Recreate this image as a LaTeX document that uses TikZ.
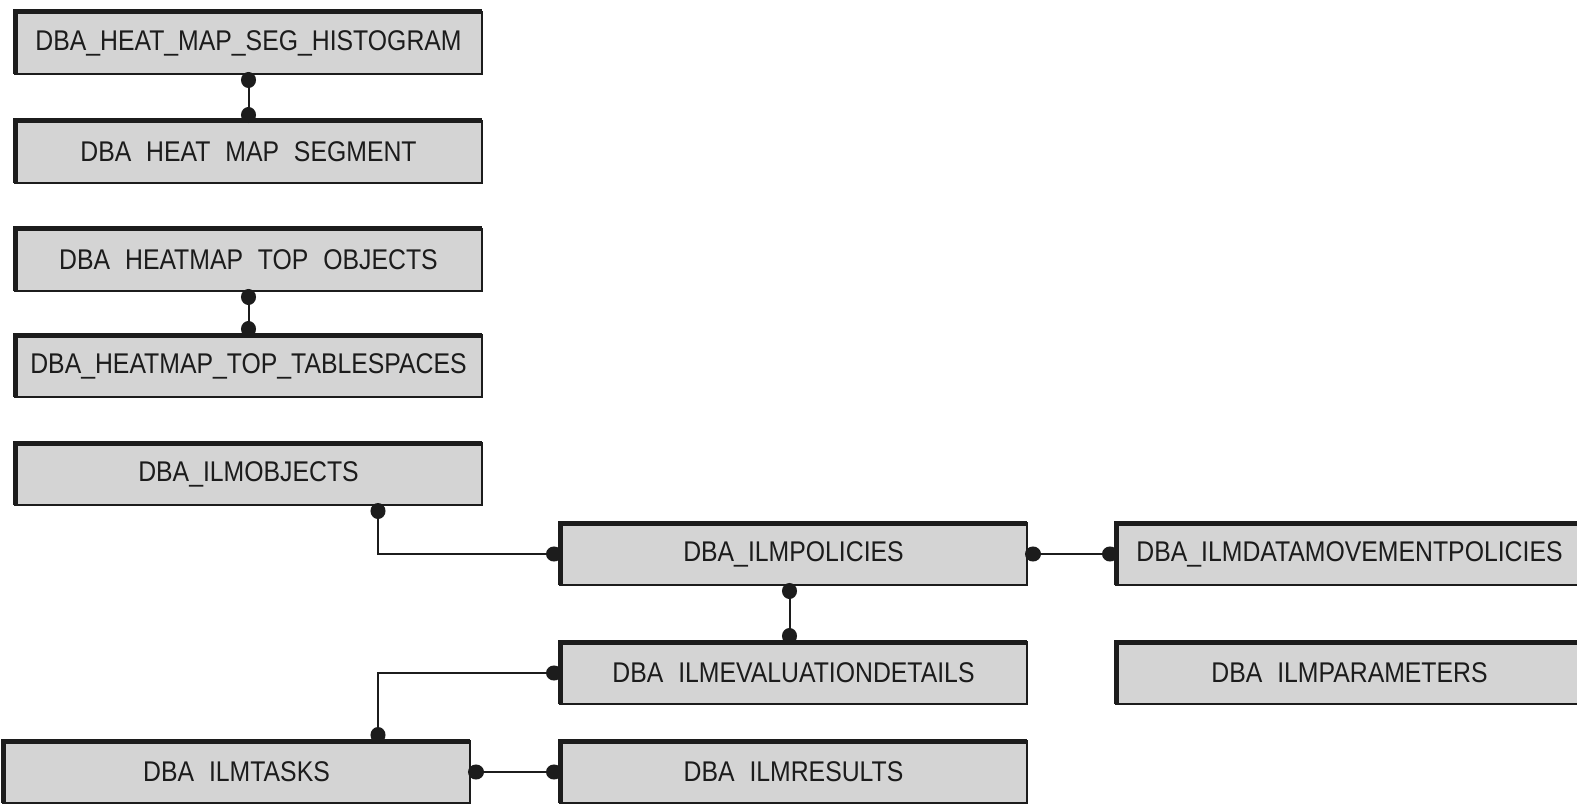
\documentclass[tikz,border=0pt]{standalone}
\usepackage{fontspec}
\setmainfont{Liberation Sans}
\usetikzlibrary{arrows.meta}

\definecolor{boxfill}{RGB}{212,212,212}
\definecolor{ink}{RGB}{28,28,28}

% condensed label text with wider word gaps
\newcommand{\tbl}[1]{\scalebox{0.87}[1]{\spaceskip=0.6em\relax #1}}

\tikzset{
  tablebox/.style={draw=ink, line width=2pt, fill=boxfill,
    minimum width=467pt, minimum height=62pt, inner sep=0pt, outer sep=0pt,
    text=ink, font=\fontsize{28.5}{30}\selectfont},
  heavyedge/.style={draw=ink, line width=5pt, line cap=butt, line join=miter},
  link/.style={draw=ink, line width=2pt, shorten <=-2pt, shorten >=-2pt,
    {Circle[length=16pt,width=15pt]}-{Circle[length=16pt,width=15pt]}}
}

\begin{document}
\begin{tikzpicture}[x=1pt,y=-1pt]
\useasboundingbox (0,0) rectangle (1577,805);
\clip (0,0) rectangle (1577,805);
\fill[white] (0,0) rectangle (1577,805);

% heat map views
\node[tablebox] (hist)   at (248.5,43)  {\tbl{DBA\_HEAT\_MAP\_SEG\_HISTOGRAM}};
\node[tablebox] (seg)    at (248.5,152) {\tbl{DBA HEAT MAP SEGMENT}};
\node[tablebox] (topobj) at (248.5,260) {\tbl{DBA HEATMAP TOP OBJECTS}};
\node[tablebox] (topts)  at (248.5,366) {\tbl{DBA\_HEATMAP\_TOP\_TABLESPACES}};

% ILM views
\node[tablebox] (ilmobj)   at (248.5,474)  {\tbl{DBA\_ILMOBJECTS}};
\node[tablebox] (policies) at (793.5,554)  {\tbl{DBA\_ILMPOLICIES}};
\node[tablebox] (datamove) at (1349.5,554) {\tbl{DBA\_ILMDATAMOVEMENTPOLICIES}};
\node[tablebox] (eval)     at (793.5,673)  {\tbl{DBA ILMEVALUATIONDETAILS}};
\node[tablebox] (params)   at (1349.5,673) {\tbl{DBA ILMPARAMETERS}};
\node[tablebox] (tasks)    at (236.5,772)  {\tbl{DBA ILMTASKS}};
\node[tablebox] (results)  at (793.5,772)  {\tbl{DBA ILMRESULTS}};

% heavier top and left edges
\foreach \n in {hist,seg,topobj,topts,ilmobj,policies,datamove,eval,params,tasks,results}
  \draw[heavyedge] (\n.south west) -- (\n.north west) -- (\n.north east);

% relationships
\draw[link] (hist.south) -- (seg.north);
\draw[link] (topobj.south) -- (topts.north);
\draw[link] ([xshift=129.5pt]ilmobj.south) |- (policies.west);
\draw[link] (policies.east) -- (datamove.west);
\draw[link] ([xshift=-4pt]policies.south) -- ([xshift=-4pt]eval.north);
\draw[link] (eval.west) -| ([xshift=141.5pt]tasks.north);
\draw[link] (tasks.east) -- (results.west);
\end{tikzpicture}
\end{document}
